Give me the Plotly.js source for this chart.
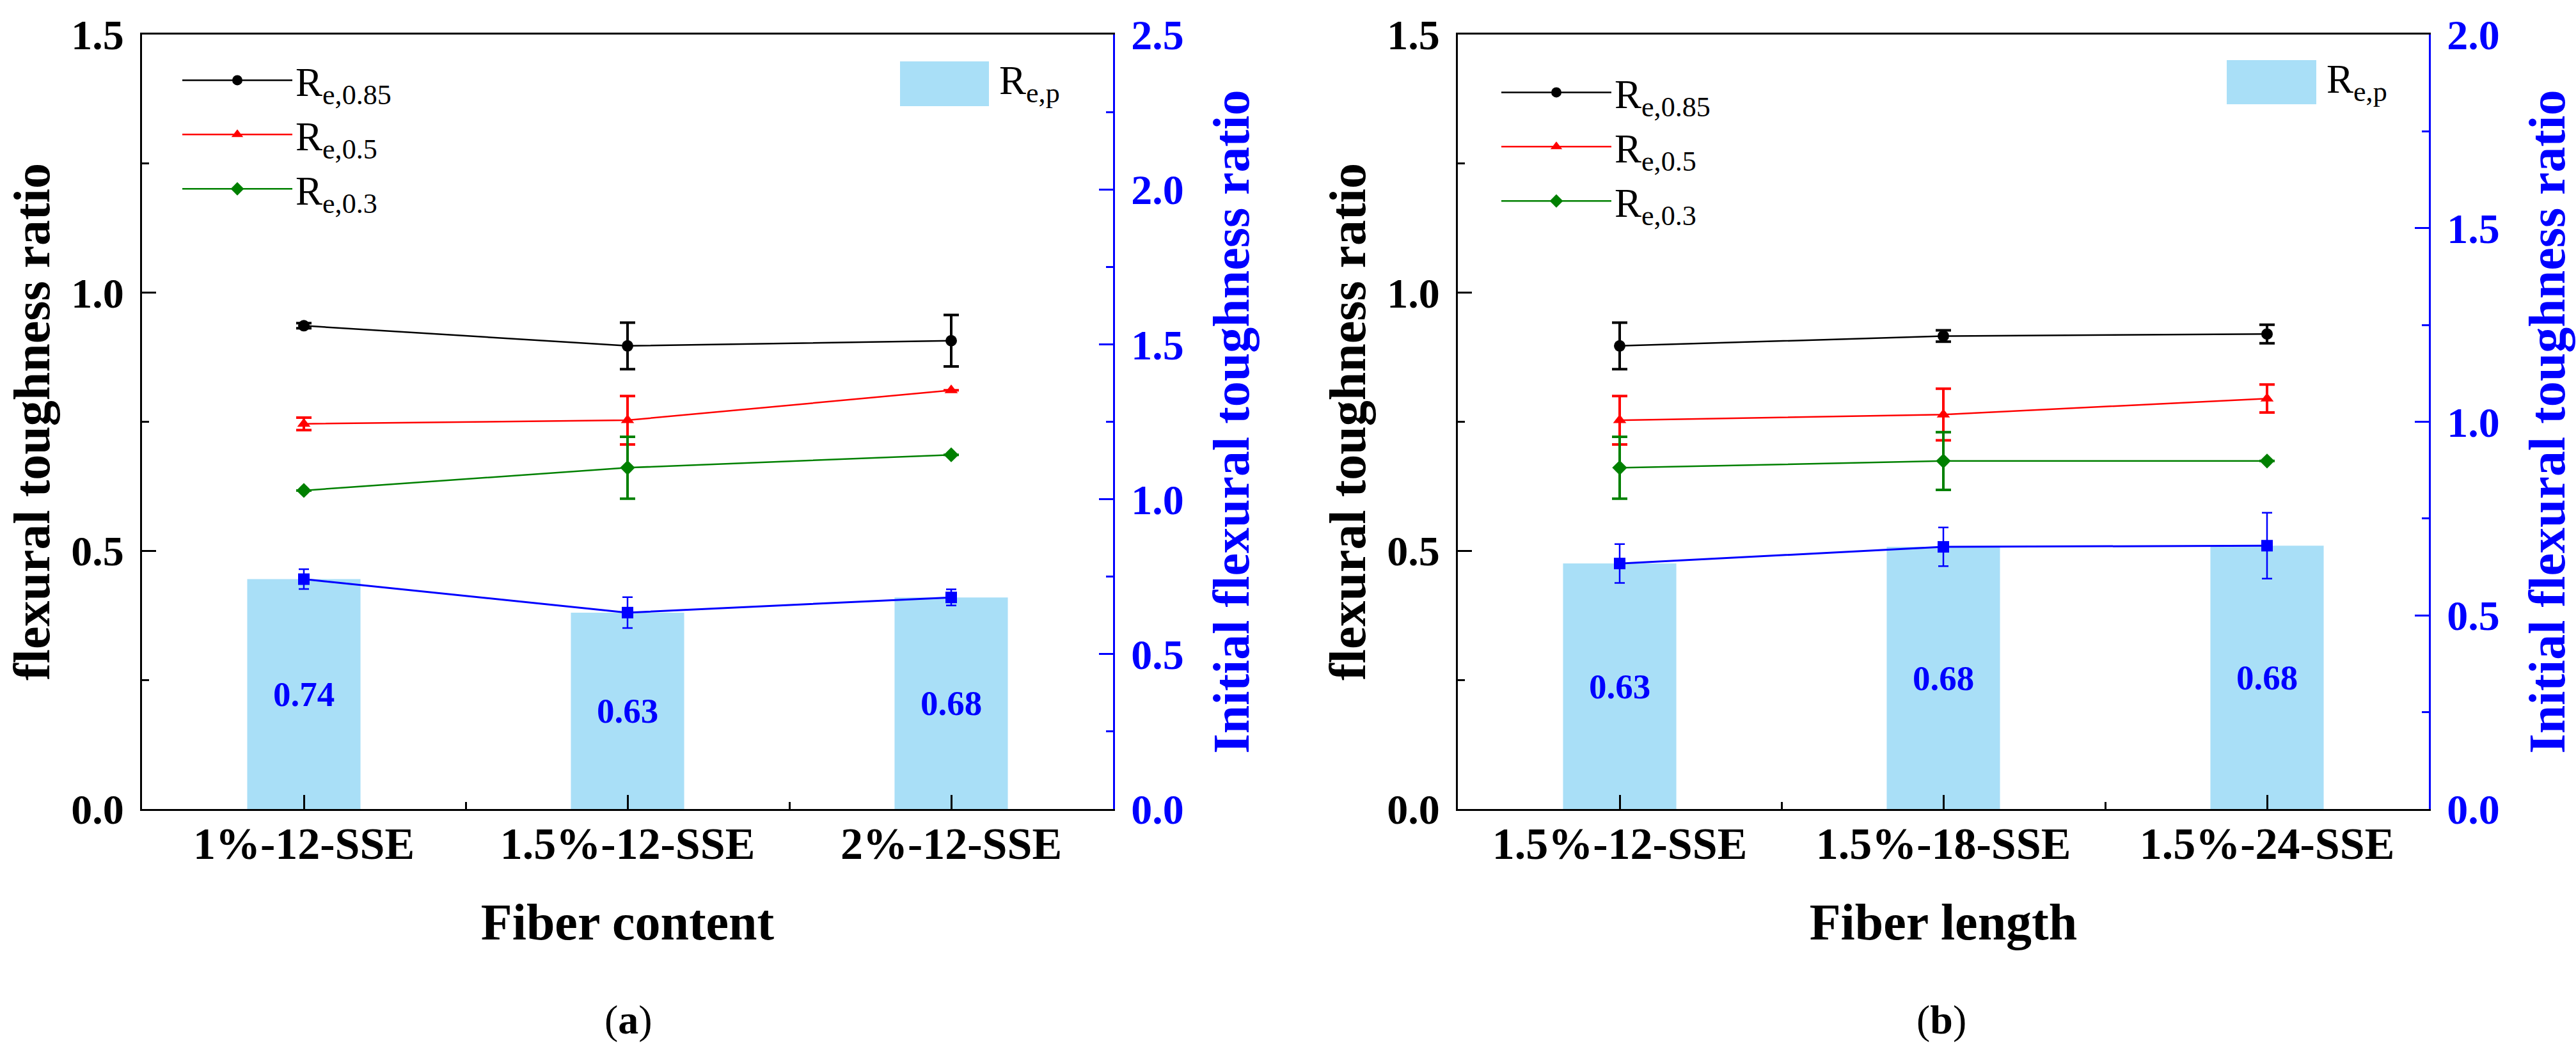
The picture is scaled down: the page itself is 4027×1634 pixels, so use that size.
<!DOCTYPE html>
<html>
<head>
<meta charset="utf-8">
<script src="https://cdn.plot.ly/plotly-3.0.1.min.js"></script>
<style>
  html, body { margin: 0; padding: 0; background: #fff; }
  #chart { width: 4027px; height: 1634px; }
</style>
</head>
<body>
<div id="chart"></div>
<script>
// category labels for the two panels
const categoriesA = ['1%-12-SSE', '1.5%-12-SSE', '2%-12-SSE'];
const categoriesB = ['1.5%-12-SSE', '1.5%-18-SSE', '1.5%-24-SSE'];

// panel (a): fiber content
const re085A = [0.936, 0.897, 0.907];
const re085ErrA = [0.005, 0.045, 0.05];
const re05A = [0.746, 0.753, 0.811];
const re05ErrA = [0.012, 0.047, 0];
const re03A = [0.617, 0.661, 0.686];
const re03ErrA = [0, 0.06, 0];
const repA = [0.742, 0.634, 0.683];
const repErrA = [0.032, 0.05, 0.026];

// panel (b): fiber length
const re085B = [0.897, 0.916, 0.920];
const re085ErrB = [0.045, 0.011, 0.018];
const re05B = [0.753, 0.764, 0.795];
const re05ErrB = [0.047, 0.05, 0.027];
const re03B = [0.661, 0.674, 0.674];
const re03ErrB = [0.06, 0.056, 0];
const repB = [0.634, 0.677, 0.680];
const repErrB = [0.05, 0.05, 0.085];

const FONT = 'Liberation Serif, Times New Roman, serif';
const BAR_COLOR = '#a9dff7';

function idx(arr) { return arr.map((_, i) => i); }

function lineTrace(name, x, y, err, color, symbol, size, xa, ya, legend, errW) {
    return {
        type: 'scatter', mode: 'lines+markers', name: name,
        x: x, y: y, xaxis: xa, yaxis: ya, legend: legend,
        line: { color: color, width: 2.5 },
        marker: { color: color, symbol: symbol, size: size },
        error_y: { type: 'data', array: err, visible: true, color: color, thickness: errW, width: 12 },
        cliponaxis: false
    };
}

function panelTraces(cats, r085, e085, r05, e05, r03, e03, rep, erep, xa, yL, yR, legend) {
    const x = idx(cats);
    return [
        {
            type: 'bar', x: x, y: rep, xaxis: xa, yaxis: yR, width: 0.35,
            marker: { color: BAR_COLOR }, showlegend: false,
            texttemplate: '%{y:.2f}', textposition: 'inside', insidetextanchor: 'middle',
            textangle: 0,
            textfont: { family: FONT, size: 55, color: '#0000ff', weight: 'bold' }
        },
        {
            type: 'scatter', mode: 'lines+markers', x: x, y: rep, xaxis: xa, yaxis: yR,
            showlegend: false,
            line: { color: '#0000ff', width: 3 },
            marker: { color: '#0000ff', symbol: 'square', size: 18 },
            error_y: { type: 'data', array: erep, visible: true, color: '#0000ff', thickness: 2.5, width: 8 }
        },
        lineTrace('R<sub>e,0.85</sub>', x, r085, e085, '#000000', 'circle', 18, xa, yL, legend, 4),
        lineTrace('R<sub>e,0.5</sub>', x, r05, e05, '#ff0000', 'triangle-up', 18, xa, yL, legend, 4),
        lineTrace('R<sub>e,0.3</sub>', x, r03, e03, '#008000', 'diamond', 18, xa, yL, legend, 4)
    ];
}

const data = [].concat(
    panelTraces(categoriesA, re085A, re085ErrA, re05A, re05ErrA, re03A, re03ErrA, repA, repErrA, 'x', 'y', 'y2', 'legend'),
    panelTraces(categoriesB, re085B, re085ErrB, re05B, re05ErrB, re03B, re03ErrB, repB, repErrB, 'x2', 'y3', 'y4', 'legend2')
);

const W = 4027, H = 1634;
const yDom = [1 - 1265 / H, 1 - 54 / H];

function xAxis(domain, cats, title, anchor) {
    return {
        domain: domain, anchor: anchor, range: [-0.5, 2.5],
        tickmode: 'array', tickvals: idx(cats), ticktext: cats,
        ticks: 'inside', ticklen: 22, tickwidth: 3, tickcolor: '#000',
        minor: { tickmode: 'array', tickvals: [0.5, 1.5], ticks: 'inside', ticklen: 11, tickwidth: 3, tickcolor: '#000' },
        showline: true, linewidth: 3, linecolor: '#000', mirror: true,
        showgrid: false, zeroline: false, ticklabelstandoff: -9,
        tickfont: { family: FONT, size: 70, color: '#000', weight: 'bold' },
        title: { text: title, standoff: 56, font: { family: FONT, size: 80, color: '#000', weight: 'bold' } }
    };
}

function leftAxis(anchor) {
    return {
        domain: yDom, anchor: anchor, range: [0, 1.5], dtick: 0.5, tickformat: '.1f',
        ticks: 'inside', ticklen: 22, tickwidth: 3, tickcolor: '#000',
        minor: { dtick: 0.25, ticks: 'inside', ticklen: 11, tickwidth: 3, tickcolor: '#000' },
        showline: true, linewidth: 3, linecolor: '#000',
        showgrid: false, zeroline: false, ticklabelstandoff: 12,
        tickfont: { family: FONT, size: 66, color: '#000', weight: 'bold' },
        title: { text: 'flexural toughness ratio', standoff: 8, font: { family: FONT, size: 80, color: '#000', weight: 'bold' } }
    };
}

function rightAxis(anchor, overlay, top) {
    return {
        overlaying: overlay, anchor: anchor, side: 'right', range: [0, top], dtick: 0.5, tickformat: '.1f',
        ticks: 'inside', ticklen: 22, tickwidth: 3, tickcolor: '#0000ff',
        minor: { dtick: 0.25, ticks: 'inside', ticklen: 11, tickwidth: 3, tickcolor: '#0000ff' },
        showline: true, linewidth: 3, linecolor: '#0000ff',
        showgrid: false, zeroline: false, ticklabelstandoff: 12,
        tickfont: { family: FONT, size: 66, color: '#0000ff', weight: 'bold' },
        title: { text: 'Initial flexural toughness ratio', standoff: 47, font: { family: FONT, size: 80, color: '#0000ff', weight: 'bold' } }
    };
}

function lineLegend(xpx, ypx) {
    return {
        x: xpx / W, y: 1 - ypx / H, xanchor: 'left', yanchor: 'top',
        bgcolor: 'rgba(0,0,0,0)', itemwidth: 172, tracegroupgap: 0,
        font: { family: FONT, size: 63, color: '#000' }
    };
}

// Re,p legend swatch drawn as a rectangle + label (Plotly bar legend symbols can't be resized)
function repLegend(x0, x1, y0, y1, tx) {
    return {
        shape: { type: 'rect', xref: 'paper', yref: 'paper', x0: x0 / W, x1: x1 / W, y0: 1 - y1 / H, y1: 1 - y0 / H,
                 fillcolor: BAR_COLOR, line: { width: 0 } },
        ann: { xref: 'paper', yref: 'paper', x: tx / W, y: 1 - ((y0 + y1) / 2) / H, xanchor: 'left', yanchor: 'middle',
               text: 'R<sub>e,p</sub>', showarrow: false, font: { family: FONT, size: 63, color: '#000' } }
    };
}

const repLegA = repLegend(1407, 1546, 96, 166, 1560);
const repLegB = repLegend(3481, 3621, 94, 163, 3635);

const layout = {
    width: W, height: H,
    margin: { l: 0, r: 0, t: 0, b: 0 },
    paper_bgcolor: '#fff', plot_bgcolor: 'rgba(0,0,0,0)',
    font: { family: FONT },
    xaxis: xAxis([222 / W, 1740 / W], categoriesA, 'Fiber content', 'y'),
    yaxis: leftAxis('x'),
    yaxis2: rightAxis('x', 'y', 2.5),
    xaxis2: xAxis([2279 / W, 3797 / W], categoriesB, 'Fiber length', 'y3'),
    yaxis3: leftAxis('x2'),
    yaxis4: rightAxis('x2', 'y3', 2.0),
    legend: lineLegend(280, 78),
    legend2: lineLegend(2342, 97),
    shapes: [repLegA.shape, repLegB.shape],
    annotations: [
        repLegA.ann, repLegB.ann,
        { xref: 'paper', yref: 'paper', x: 982 / W, y: 1 - 1594 / H, xanchor: 'center', yanchor: 'middle',
          text: '(<b>a</b>)', showarrow: false, font: { family: FONT, size: 64, color: '#000' } },
        { xref: 'paper', yref: 'paper', x: 3035 / W, y: 1 - 1594 / H, xanchor: 'center', yanchor: 'middle',
          text: '(<b>b</b>)', showarrow: false, font: { family: FONT, size: 64, color: '#000' } }
    ],
    showlegend: true
};

Plotly.newPlot('chart', data, layout, { displayModeBar: false, staticPlot: true });
</script>
</body>
</html>
